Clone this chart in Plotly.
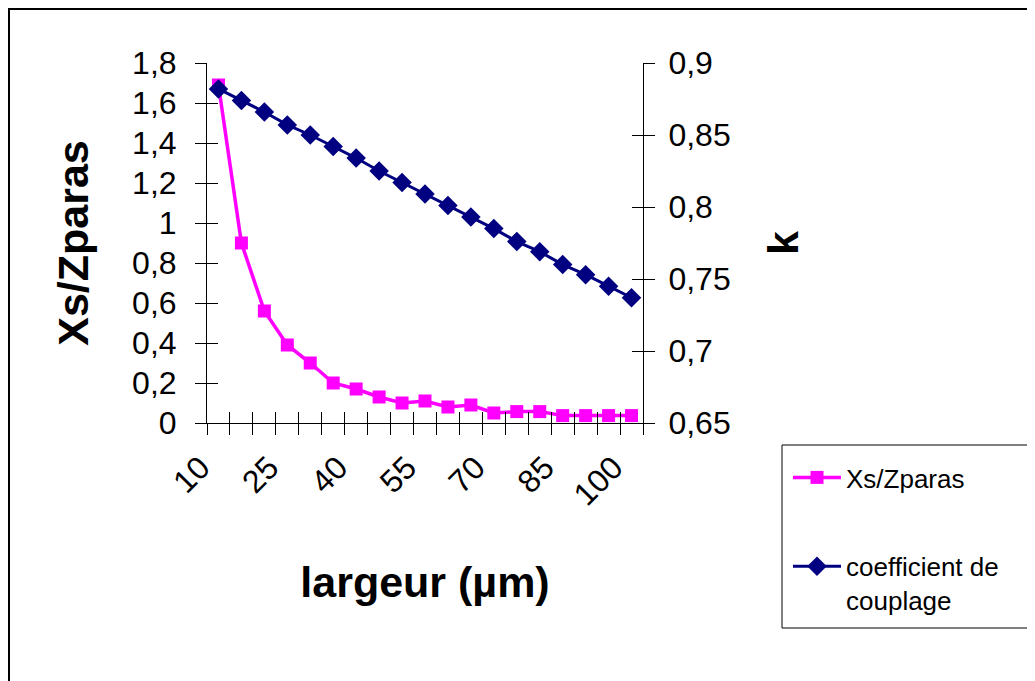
import plotly.graph_objects as go

# ---- data ----
largeur = [str(v) for v in range(10, 101, 5)]
label_every = ["10", "25", "40", "55", "70", "85", "100"]
xs_zparas = [1.69, 0.90, 0.56, 0.39, 0.30, 0.20, 0.17, 0.13, 0.10, 0.11,
             0.08, 0.09, 0.05, 0.057, 0.057, 0.037, 0.037, 0.037, 0.037]
k_coupl = [0.882, 0.874, 0.866, 0.857, 0.850, 0.842, 0.834, 0.825, 0.817,
           0.809, 0.801, 0.793, 0.785, 0.776, 0.769, 0.760, 0.753, 0.745, 0.737]

ticktext = [c if c in label_every else "" for c in largeur]

FONT = "Arial, Liberation Sans, sans-serif"

# plot area in figure pixels
L, R, T, B = 199, 635, 55, 415
W, H = 1035, 681
PW, PH = R - L, B - T


def px_x(x):
    return (x - L) / PW


def px_y(y):
    return (B - y) / PH


fig = go.Figure()
fig.add_trace(go.Scatter(
    x=largeur, y=xs_zparas, name="Xs/Zparas", mode="lines+markers",
    line=dict(color="#FF00FF", width=3.5),
    marker=dict(symbol="square", size=13, color="#FF00FF"),
    xaxis="x", yaxis="y", legendgroup="a"))
fig.add_trace(go.Scatter(
    x=largeur, y=k_coupl, name="coefficient de<br>couplage", mode="lines+markers",
    line=dict(color="#000080", width=3),
    marker=dict(symbol="diamond", size=15, color="#000080"),
    xaxis="x", yaxis="y2", legendgroup="b"))
# invisible helpers so the overlay axes (for crossing tick marks) get the categories
fig.add_trace(go.Scatter(x=largeur, y=xs_zparas, xaxis="x3", yaxis="y3",
                         mode="lines", opacity=0, showlegend=False, hoverinfo="skip"))
fig.add_trace(go.Scatter(x=largeur, y=k_coupl, xaxis="x3", yaxis="y4",
                         mode="lines", opacity=0, showlegend=False, hoverinfo="skip"))

tickfont = dict(family=FONT, size=32, color="black")
titlefont = dict(family=FONT, size=43, color="black", weight="bold")

common_x = dict(type="category", categoryorder="array", categoryarray=largeur,
                range=[-0.5, len(largeur) - 0.5], tickson="boundaries",
                tickvals=largeur, ticktext=ticktext, showgrid=False,
                zeroline=False, ticklen=11, tickcolor="black", tickwidth=1)

fig.update_layout(
    width=W, height=H,
    paper_bgcolor="white", plot_bgcolor="white",
    separators=", ",
    margin=dict(l=L, r=W - R, t=T, b=H - B, autoexpand=False),
    showlegend=True,
    xaxis=dict(**common_x, ticks="outside", showline=True, linecolor="black",
               linewidth=1, tickangle=-45, tickfont=tickfont,
               ticklabelstandoff=12, ticklabelshift=-18,
               title=dict(text="largeur (µm)", font=titlefont, standoff=55),
               anchor="y", automargin=False),
    xaxis3=dict(**common_x, ticks="inside", showline=False, showticklabels=False,
                overlaying="x", anchor="y", side="bottom"),
    yaxis=dict(range=[0, 1.8], dtick=0.2, tick0=0, ticks="outside", ticklen=11,
               tickcolor="black", showline=True, linecolor="black", linewidth=1,
               showgrid=False, zeroline=False, tickfont=tickfont,
               ticklabelstandoff=12,
               title=dict(text="Xs/Zparas", font=titlefont, standoff=30),
               automargin=False),
    yaxis2=dict(range=[0.65, 0.9], dtick=0.05, tick0=0.65, ticks="outside", ticklen=11,
                tickcolor="black", showline=True, linecolor="black", linewidth=1,
                showgrid=False, zeroline=False, tickfont=tickfont,
                overlaying="y", side="right", anchor="x", ticklabelstandoff=7,
                title=dict(text="k", font=titlefont, standoff=38),
                automargin=False),
    yaxis3=dict(range=[0, 1.8], dtick=0.2, tick0=0, ticks="inside", ticklen=11,
                tickcolor="black", showline=False, showgrid=False, zeroline=False,
                showticklabels=False, overlaying="y", side="left", anchor="x3"),
    yaxis4=dict(range=[0.65, 0.9], dtick=0.05, tick0=0.65, ticks="inside", ticklen=11,
                tickcolor="black", showline=False, showgrid=False, zeroline=False,
                showticklabels=False, overlaying="y", side="right", anchor="x3"),
    legend=dict(x=px_x(780), y=px_y(446), xanchor="left", yanchor="top",
                font=dict(family=FONT, size=26, color="black"),
                bgcolor="rgba(0,0,0,0)", borderwidth=0,
                traceorder="grouped", tracegroupgap=52, itemwidth=48,
                valign="top"),
    shapes=[
        # legend frame
        dict(type="rect", xref="paper", yref="paper",
             x0=px_x(774), x1=px_x(1020), y0=px_y(620), y1=px_y(437),
             line=dict(color="black", width=1), fillcolor="rgba(0,0,0,0)"),
        # chart-area frame (figure border)
        dict(type="rect", xref="paper", yref="paper",
             x0=px_x(0), x1=px_x(W), y0=px_y(H), y1=px_y(0),
             line=dict(color="black", width=4), fillcolor="rgba(0,0,0,0)"),
    ],
)

fig.write_html("out.html")
